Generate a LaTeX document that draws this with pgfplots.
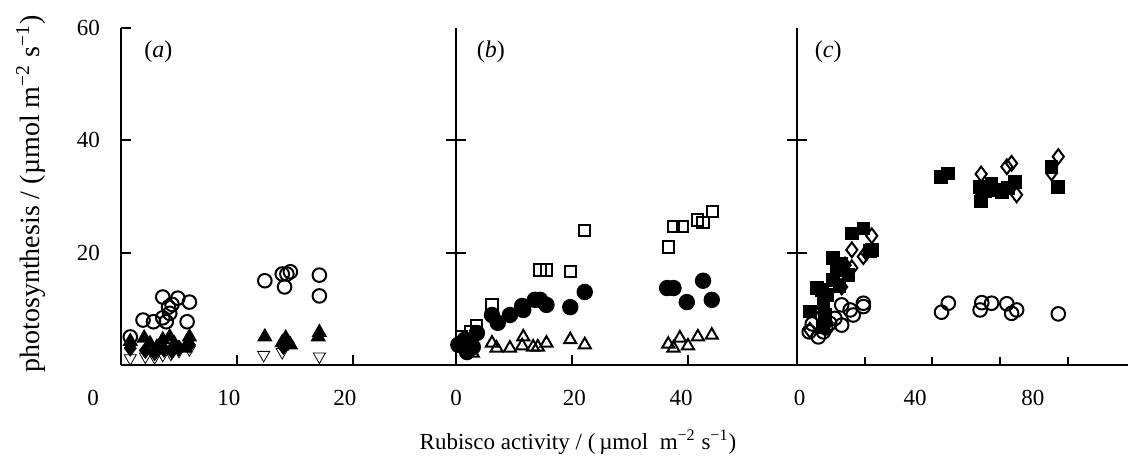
\documentclass[border=0pt]{standalone}
\usepackage{fontspec}
\setmainfont{Liberation Serif}
\usepackage{pgfplots}
\pgfplotsset{compat=1.18}

% 1 px of the reference = 0.5pt here
\pgfplotsset{
  panel/.style={
    scale only axis, height=168.5pt,
    ymin=0, ymax=60,
    anchor=south west,
    axis x line=bottom, axis y line=left,
    axis line style={-, line width=1pt},
    every tick/.style={black, line width=0.9pt},
    tick align=inside, major tick length=5pt,
    clip=false,
    /pgf/number format/assume math mode=true,
    tick label style={font=\fontsize{11.5}{13}\selectfont},
    xticklabel style={yshift=-9pt},
    yticklabel style={xshift=-7pt},
  },
  ycross/.style={
    axis x line=none, ytick={20,40}, yticklabels={},
    tick align=center, major tick length=10pt,
  },
  % labels printed where the reference prints them (not always at a tick)
  lblonly/.style={extra x tick style={major tick length=0pt}},
  mk/.style={only marks, mark options={line width=1pt, black, solid}},
  ocirc/.style={mk, mark=o, mark size=3.4pt},
  fcirc/.style={mk, mark=*, mark size=3.6pt},
  osq/.style={mk, mark=square, mark size=2.8pt},
  fsq/.style={mk, mark=square*, mark size=2.9pt},
  otri/.style={mk, mark=triangle, mark size=3.5pt},
  ftri/.style={mk, mark=triangle*, mark size=3.5pt},
  odown/.style={mk, mark=triangle, mark size=3.5pt, mark options={rotate=180}},
  odia/.style={mk, mark=diamond, mark size=3.7pt},
  fdia/.style={mk, mark=diamond*, mark size=3.5pt},
}

\begin{document}
\begin{tikzpicture}
\useasboundingbox (0,0) rectangle (564pt,232pt);

% ---------------- (a) ----------------
\begin{axis}[panel, at={(60.5pt,49.5pt)}, width=168.2pt,
    xmin=0, xmax=29, xtick={10,20}, ytick={20,40,60},
    xticklabel style={xshift=-4pt},
    extra x ticks={0}, extra x tick labels={0},
    extra x tick style={xticklabel style={xshift=-10pt}}]
\addplot[ocirc] coordinates {
  (0.8,5.0) (1.9,8.0) (2.8,7.7) (3.6,8.4) (3.6,12.1) (4.1,10.3) (4.2,9.2)
  (3.9,7.7) (4.9,11.9) (4.4,10.8) (5.9,11.2) (5.7,7.7)
  (12.4,15.0) (13.9,16.2) (14.6,16.6) (14.1,13.9) (14.3,16.2)
  (17.1,16.0) (17.1,12.3)
};
\addplot[ftri] coordinates {
  (0.8,4.2) (2.0,4.8) (2.5,3.8) (3.1,3.2) (3.6,4.5) (4.2,5.0) (4.6,3.8)
  (5.5,3.0) (5.9,5.0) (12.4,5.0) (13.9,4.0) (14.2,4.8) (14.6,3.6)
  (17.1,5.8) (17.0,5.0)
};
\addplot[fdia] coordinates {
  (0.8,3.0) (2.1,2.6) (2.9,2.2) (3.7,2.8) (4.4,2.5) (5.0,3.0) (5.9,3.6)
  (14.0,3.3) (14.4,4.0)
};
\addplot[odown] coordinates {
  (0.8,1.2) (2.1,1.5) (2.9,1.4) (3.6,1.8) (4.3,2.0) (5.0,2.5) (5.9,2.8)
  (12.3,1.8) (13.9,2.3) (17.1,1.5)
};
\node[anchor=west, font=\fontsize{12}{14}\selectfont] at (axis cs:1.4,55.7) {(\textit{a})};
\end{axis}

% ---------------- (b) ----------------
\begin{axis}[panel, lblonly, at={(228pt,49.5pt)}, width=170.5pt,
    xmin=0, xmax=58.8, xtick={20,40}, xticklabels={}, ytick=\empty,
    extra x ticks={0,20.4,38.8}, extra x tick labels={0,20,40}]
\addplot[osq] coordinates {
  (1.0,5.0) (2.5,6.0) (3.6,7.1) (6.2,10.7) (14.5,16.9) (15.6,16.9)
  (19.7,16.6) (22.2,24.0) (36.6,21.0) (37.5,24.6) (39.1,24.6)
  (41.7,25.8) (42.6,25.3) (44.2,27.3)
};
\addplot[fcirc] coordinates {
  (0.4,3.6) (1.5,4.5) (1.9,2.3) (2.4,4.0) (2.9,3.2) (3.6,5.7)
  (6.2,8.9) (7.2,7.5) (9.3,8.9) (11.4,10.5) (11.6,9.8) (13.6,11.6)
  (14.5,11.6) (15.6,10.7) (19.7,10.3) (22.2,13.0)
  (36.4,13.7) (37.5,13.7) (39.8,11.2) (42.6,15.0) (44.1,11.6)
};
\addplot[otri] coordinates {
  (2.9,2.1) (6.2,3.9) (7.0,3.0) (9.3,3.0) (11.4,3.4) (11.6,5.0)
  (13.3,3.2) (14.1,3.2) (15.6,3.9) (19.7,4.5) (22.2,3.6)
  (36.6,3.7) (37.5,3.0) (38.6,4.8) (40.0,3.4) (41.7,5.0) (44.1,5.3)
};
\node[anchor=west, font=\fontsize{12}{14}\selectfont] at (axis cs:2.4,55.7) {(\textit{b})};
\end{axis}
\begin{axis}[panel, ycross, at={(228pt,49.5pt)}, width=170.5pt,
    xmin=0, xmax=58.8]
\end{axis}

% ---------------- (c) ----------------
\begin{axis}[panel, lblonly, at={(398.5pt,49.5pt)}, width=165.5pt,
    xmin=0, xmax=97.8, xtick={20,40,60,80}, xticklabels={},
    ytick=\empty, major tick length=4pt,
    extra x ticks={0.8,34.9,69.7}, extra x tick labels={0,40,80}]
\addplot[ocirc] coordinates {
  (3.6,5.9) (4.5,7.3) (6.3,5.0) (7.8,5.9) (8.5,6.6) (9.7,7.4) (11.2,8.3)
  (13.2,7.1) (13.2,10.7) (15.7,9.8) (16.6,8.9) (19.6,11.0) (19.6,10.4)
  (42.7,9.4) (44.7,11.0) (54.1,9.8) (54.6,11.1) (57.5,11.0)
  (62.0,10.9) (63.4,9.2) (64.9,9.8) (77.2,9.1)
};
\addplot[fsq] coordinates {
  (3.8,9.5) (5.9,13.7) (7.7,6.8) (8.3,8.9) (7.8,11.0) (7.3,13.4)
  (9.0,12.5) (10.7,15.1) (11.7,16.9) (10.7,19.0) (12.5,14.0) (13.2,18.1)
  (15.2,16.0) (16.2,23.4) (19.6,24.3) (22.1,20.5) (21.6,20.3)
  (42.5,33.5) (44.7,34.1) (54.1,31.7) (54.4,29.1) (55.5,31.0)
  (57.5,32.3) (59.0,31.2) (60.5,30.8) (62.4,31.5) (64.4,32.6)
  (75.2,35.3) (77.2,31.7)
};
\addplot[odia] coordinates {
  (3.8,6.2) (6.8,8.6) (8.9,7.5) (12.0,14.5) (13.2,13.9) (14.2,17.8)
  (16.2,17.3) (16.2,20.5) (19.6,19.3) (20.5,20.0) (22.1,23.0)
  (54.4,34.0) (54.4,30.6) (62.0,35.3) (63.4,35.9) (64.9,30.3)
  (75.2,34.2) (77.2,37.1)
};
\node[anchor=west, font=\fontsize{12}{14}\selectfont] at (axis cs:3.2,55.7) {(\textit{c})};
\end{axis}
\begin{axis}[panel, ycross, at={(398.5pt,49.5pt)}, width=165.5pt,
    xmin=0, xmax=97.8]
\end{axis}

\node[rotate=90, font=\fontsize{14}{16}\selectfont] at (15.5pt,135pt)
  {photosynthesis / (µmol m\textsuperscript{−2} s\textsuperscript{−1})};
\node[font=\fontsize{11.5}{13}\selectfont] at (289pt,11pt)
  {Rubisco activity / (\,µmol\ \ m\textsuperscript{−2} s\textsuperscript{−1})};
\end{tikzpicture}
\end{document}
